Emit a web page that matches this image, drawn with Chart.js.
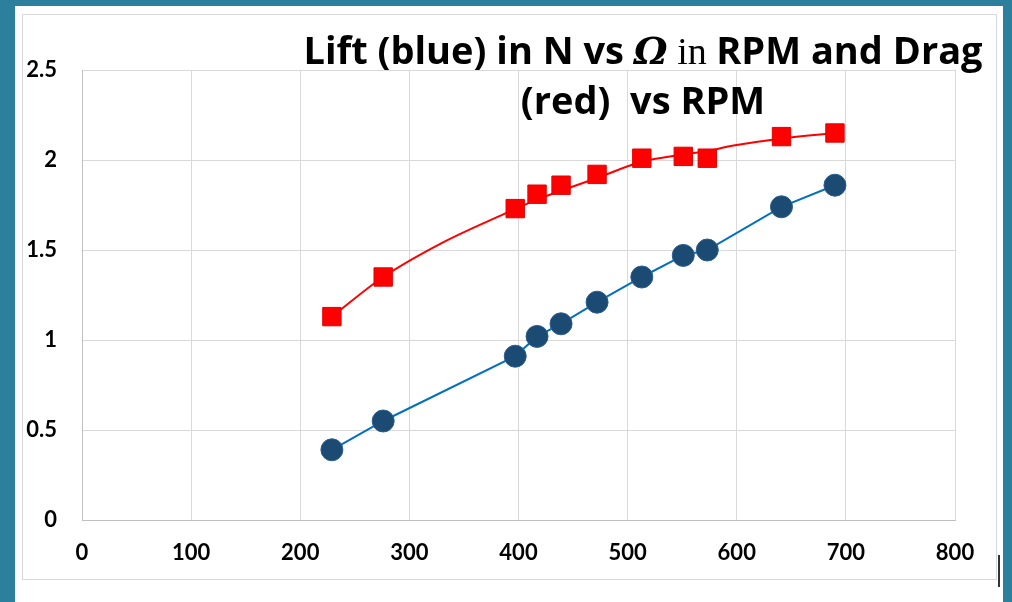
<!DOCTYPE html>
<html>
<head>
<meta charset="utf-8">
<script src="https://cdn.jsdelivr.net/npm/chart.js@4.4.0/dist/chart.umd.min.js"></script>
<style>
  html, body { margin: 0; padding: 0; }
  body { width: 1012px; height: 602px; background: #2c809d; position: relative; overflow: hidden; }
  #sheet { position: absolute; left: 15px; top: 6px; width: 988px; height: 596px; background: #fff; }
  #frame { position: absolute; left: 22px; top: 14px; width: 973px; height: 564px; border: 1px solid #d9d9d9; }
  #mark { position: absolute; left: 998px; top: 555px; width: 2px; height: 32px; background: #333; }
  #wrap { position: absolute; left: 0; top: 0; width: 1012px; height: 602px; }
</style>
</head>
<body>
<div id="sheet"></div>
<div id="frame"></div>
<div id="mark"></div>
<div id="wrap"><canvas id="myChart" width="1012" height="602"></canvas></div>
<script>
// RPM values shared by both series
const rpm = [229, 276, 397, 417, 439, 472, 513, 551, 573, 641, 690];
// Lift in N (blue)
const lift = [0.39, 0.55, 0.91, 1.02, 1.09, 1.21, 1.35, 1.47, 1.50, 1.74, 1.86];
// Drag (red)
const drag = [1.13, 1.35, 1.73, 1.81, 1.86, 1.92, 2.01, 2.02, 2.01, 2.13, 2.15];
// drag trend curve
const dragTrendX = [229, 276, 330, 383, 417, 472, 513, 551, 573, 597, 641, 690];
const dragTrendY = [1.13, 1.35, 1.54, 1.69, 1.78, 1.90, 1.99, 2.03, 2.05, 2.08, 2.12, 2.15];

const xTicks = ['0', '100', '200', '300', '400', '500', '600', '700', '800'];
const yTicks = ['0', '0.5', '1', '1.5', '2', '2.5'];

function pairs(xs, ys) {
    return xs.map((x, i) => ({ x: x, y: ys[i] }));
}

const tickFont = { family: 'Lato', size: 22, weight: 'bold' };

// title with mixed fonts, drawn on top of the plot
const titlePlugin = {
    id: 'mixedTitle',
    afterDatasetsDraw(chart) {
        const ctx = chart.ctx;
        const sans = 'bold 38px "Open Sans"';
        const line1 = [
            { t: 'Lift (blue) in N vs ', f: sans },
            { t: 'Ω', f: 'italic bold 38px "DejaVu Serif"' },
            { t: ' in ', f: '38px "Liberation Serif"' },
            { t: 'RPM and Drag', f: sans }
        ];
        const line2 = [{ t: '(red)  vs RPM', f: sans }];
        const cx = 643;
        ctx.save();
        ctx.fillStyle = '#000';
        ctx.textBaseline = 'alphabetic';
        ctx.textAlign = 'left';
        [[line1, 64], [line2, 114]].forEach(([segs, y]) => {
            let w = 0;
            segs.forEach(s => { ctx.font = s.f; w += ctx.measureText(s.t).width; });
            let x = cx - w / 2;
            segs.forEach(s => {
                ctx.font = s.f;
                ctx.fillText(s.t, x, y);
                x += ctx.measureText(s.t).width;
            });
        });
        ctx.restore();
    }
};

const ctx = document.getElementById('myChart').getContext('2d');
const myChart = new Chart(ctx, {
    type: 'scatter',
    data: {
        datasets: [{
            label: 'Lift',
            data: pairs(rpm, lift),
            showLine: true,
            borderColor: '#0070c0',
            borderWidth: 2,
            pointBackgroundColor: '#1b4a73',
            pointBorderColor: '#2b5f8f',
            pointBorderWidth: 1,
            pointRadius: 11,
            pointHoverRadius: 11,
            order: 1
        }, {
            label: 'Drag',
            data: pairs(rpm, drag),
            showLine: false,
            pointStyle: 'rect',
            pointBackgroundColor: '#ff0000',
            pointBorderColor: '#e60000',
            pointBorderWidth: 1,
            pointRadius: 13,
            pointHoverRadius: 13,
            order: 0
        }, {
            label: 'Drag trend',
            data: pairs(dragTrendX, dragTrendY),
            showLine: true,
            borderColor: '#ff0000',
            borderWidth: 2,
            pointRadius: 0,
            cubicInterpolationMode: 'monotone',
            order: 2
        }]
    },
    options: {
        responsive: false,
        animation: false,
        layout: { padding: { left: 22, right: 57, top: 70, bottom: 32 } },
        plugins: {
            legend: { display: false },
            title: { display: false },
            tooltip: { enabled: false }
        },
        scales: {
            x: {
                type: 'linear',
                min: 0,
                max: 800,
                afterFit: function(scale) { scale.height = 50; },
                afterBuildTicks: function(scale) {
                    scale.ticks = xTicks.map(v => ({ value: Number(v) }));
                },
                ticks: {
                    font: tickFont,
                    color: '#000',
                    padding: 20,
                    maxRotation: 0,
                    callback: function(value) { return String(value); }
                },
                grid: { color: '#d9d9d9', lineWidth: 1, drawTicks: false },
                border: { color: '#bfbfbf', width: 1 }
            },
            y: {
                min: 0,
                max: 2.5,
                afterFit: function(scale) { scale.width = 60; },
                afterBuildTicks: function(scale) {
                    scale.ticks = yTicks.map(v => ({ value: Number(v) }));
                },
                ticks: {
                    font: tickFont,
                    color: '#000',
                    padding: 25,
                    callback: function(value) { return String(value); }
                },
                grid: { color: '#d9d9d9', lineWidth: 1, drawTicks: false },
                border: { color: '#bfbfbf', width: 1 }
            }
        }
    },
    plugins: [titlePlugin]
});
</script>
</body>
</html>
